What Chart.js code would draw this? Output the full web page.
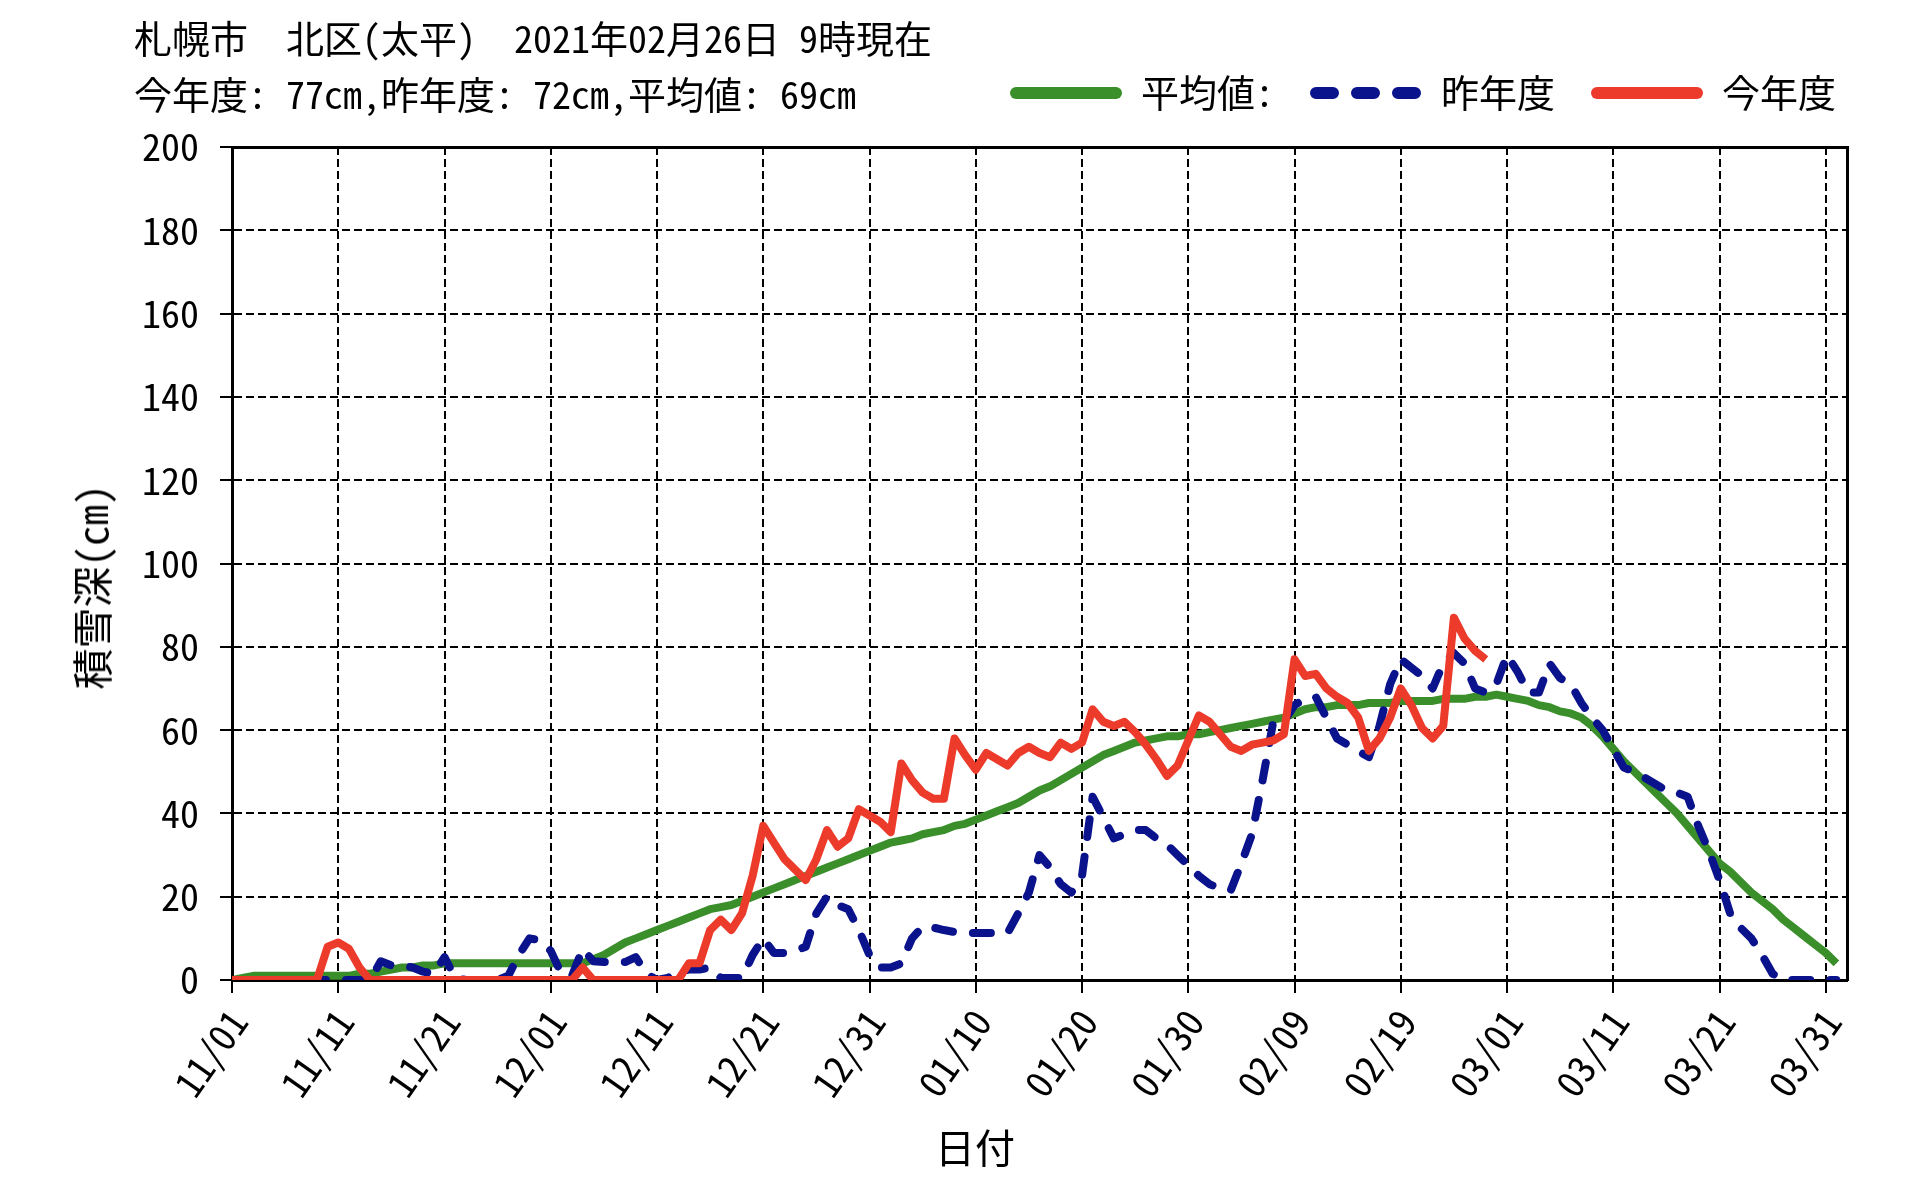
<!DOCTYPE html>
<html lang="ja">
<head>
<meta charset="utf-8">
<title>積雪深 札幌市 北区(太平)</title>
<script src="https://cdn.jsdelivr.net/npm/chart.js@4.4.1/dist/chart.umd.min.js"></script>
<style>
  html, body { margin: 0; padding: 0; background: #fff; }
  #wrap { position: relative; width: 1916px; height: 1192px; }
  #wrap canvas { position: absolute; left: 0; top: 0; }
  .txt {
    position: absolute;
    white-space: pre;
    color: #000;
    font-family: "Noto Sans Mono CJK JP", "Noto Sans CJK JP", sans-serif;
    font-size: 38px;
    line-height: 38px;
  }
  #head1 { left: 134px; top: 18px; }
  #head2 { left: 134px; top: 74px; }
  #xtitle { left: 975px; top: 1146px; font-size: 40px; transform: translate(-50%, -50%); }
  #ytitle { left: 90px; top: 587px; font-size: 41px; transform: translate(-50%, -50%) rotate(-90deg); }
</style>
</head>
<body>
<div id="wrap">
  <canvas id="snowChart" width="1916" height="1192"></canvas>
  <div class="txt" id="head1">札幌市　北区(太平)　2021年02月26日 9時現在</div>
  <div class="txt" id="head2">今年度: 77cm,昨年度: 72cm,平均値: 69cm</div>
  <div class="txt" id="xtitle">日付</div>
  <div class="txt" id="ytitle">積雪深(cm)</div>
</div>
<script>
// 積雪深グラフ 札幌市 北区(太平)  11/01 - 03/31

var FONT = '"Noto Sans Mono CJK JP", "Noto Sans CJK JP", sans-serif';
var GREEN = '#3a8f2b';
var BLUE = '#0a128c';
var RED = '#ec3a2b';

// x軸の目盛ラベル (10日ごと)
var tickLabels = ['11/01', '11/11', '11/21', '12/01', '12/11', '12/21', '12/31', '01/10',
    '01/20', '01/30', '02/09', '02/19', '03/01', '03/11', '03/21', '03/31'];

// 平均値 (cm)
var avgDepth = [
    0, 0.5, 1, 1, 1, 1, 1, 1, 1, 1,
    1, 1, 1.5, 1.5, 2, 2.5, 3, 3, 3.5, 3.5,
    4, 4, 4, 4, 4, 4, 4, 4, 4, 4,
    4, 4, 4, 4, 5, 6, 7.5, 9, 10, 11,
    12, 13, 14, 15, 16, 17, 17.5, 18, 19, 20,
    21, 22, 23, 24, 25, 26, 27, 28, 29, 30,
    31, 32, 33, 33.5, 34, 35, 35.5, 36, 37, 37.5,
    38.5, 39.5, 40.5, 41.5, 42.5, 44, 45.5, 46.5, 48, 49.5,
    51, 52.5, 54, 55, 56, 57, 57.5, 58, 58.5, 58.5,
    59, 59, 59.5, 60, 60.5, 61, 61.5, 62, 62.5, 63,
    64, 65, 65.5, 65.5, 66, 66, 66, 66.5, 66.5, 66.5,
    67, 67, 67, 67, 67.5, 67.5, 67.5, 68, 68, 68.5,
    68, 67.5, 67, 66, 65.5, 64.5, 64, 63, 61, 58.5,
    55.5, 52.5, 50, 47.5, 45, 42.5, 40, 37, 34, 31,
    28, 26, 23.5, 21, 19, 17, 14.5, 12.5, 10.5, 8.5,
    6.5, 4
];

// 昨年度 (cm)
var lastSeason = [
    0, 0, 0, 0, 0, 0, 0, 0, 0, 0,
    0, 0, 0, 0, 4.5, 3.5, 3.5, 3, 2, 1.5,
    5.5, 0.5, 0, 0, 0, 0, 1, 6, 10, 9.5,
    7, 1.5, 1, 7.5, 4.5, 4.3, 4.3, 4.3, 5.5, 1.5,
    0, 0.5, 2, 2.5, 2.5, 3, 0.5, 0.5, 0.5, 6,
    10, 6.5, 6.5, 7, 8, 16, 20, 18, 17, 12,
    6, 3, 3, 4, 10, 12.8, 12.6, 12, 11.5, 11.3,
    11.3, 11.3, 11.3, 11.3, 16, 21, 30, 27, 23, 21,
    25, 44, 39, 34, 35, 36, 36, 34, 32.5, 30,
    27.5, 25, 23, 22, 21.5, 28, 35, 48, 62, 62,
    66, 67.5, 68, 63, 58, 56.5, 55, 53.5, 61, 71,
    77, 75, 73, 70, 76, 78.5, 76, 70, 69, 71,
    78, 74, 69, 69, 76, 72.5, 71, 66.5, 63, 60,
    55.5, 51, 50, 48.5, 47, 45.5, 45, 44, 37, 31,
    24, 16, 12.5, 10, 6, 1.5, 0, 0, 0, 0,
    0, 0
];

// 今年度 (cm) 02/26まで
var thisSeason = [
    0, 0, 0, 0, 0, 0, 0, 0, 0, 8,
    9, 7.5, 3, 0, 0, 0, 0, 0, 0, 0,
    0, 0, 0, 0, 0, 0, 0, 0, 0, 0,
    0, 0, 0, 3, 0, 0, 0, 0, 0, 0,
    0, 0, 0, 4, 4, 12, 14.5, 12, 16, 25,
    37, 33, 29, 26.5, 24, 29, 36, 32, 34, 41,
    39.5, 38, 35.5, 52, 48, 45, 43.5, 43.5, 58, 54,
    50.5, 54.5, 53, 51.5, 54.5, 56, 54.5, 53.5, 57, 55.5,
    57, 65, 62, 61, 62, 59.5, 56.5, 53, 49, 51.5,
    57.5, 63.5, 62, 59, 56, 55, 56.5, 57, 57.5, 59,
    77, 73, 73.5, 70, 68, 66.5, 63, 55, 58, 63,
    70, 66, 60.5, 58, 61, 87, 82, 79, 77
];

var days = avgDepth.map(function (v, i) { return i; });

function tickFont(size) {
    return { family: FONT, size: size };
}

// 凡例の線見本 (112x12)
function makeSwatch(color, dash) {
    var c = document.createElement('canvas');
    c.width = 112;
    c.height = 12;
    var ctx = c.getContext('2d');
    ctx.strokeStyle = color;
    ctx.lineWidth = 12;
    ctx.lineCap = 'round';
    ctx.setLineDash(dash);
    ctx.beginPath();
    ctx.moveTo(6, 6);
    ctx.lineTo(106, 6);
    ctx.stroke();
    return c;
}

new Chart(document.getElementById('snowChart'), {
    type: 'line',
    data: {
        labels: days,
        datasets: [
            { label: '今年度', data: thisSeason, borderColor: RED, backgroundColor: RED, borderWidth: 8,
              pointStyle: makeSwatch(RED, []) },
            { label: '昨年度', data: lastSeason, borderColor: BLUE, backgroundColor: BLUE, borderWidth: 8,
              borderDash: [18, 20], borderCapStyle: 'round', pointStyle: makeSwatch(BLUE, [17, 24]) },
            { label: '平均値:', data: avgDepth, borderColor: GREEN, backgroundColor: GREEN, borderWidth: 8,
              pointStyle: makeSwatch(GREEN, []) }
        ]
    },
    options: {
        responsive: false,
        devicePixelRatio: 1,
        animation: false,
        layout: { padding: { top: 38, right: 44, bottom: 0, left: 0 } },
        elements: {
            point: { radius: 0 },
            line: { tension: 0, borderJoinStyle: 'round' }
        },
        plugins: {
            title: { display: false },
            tooltip: { enabled: false },
            legend: {
                position: 'top',
                align: 'end',
                reverse: true,
                labels: {
                    usePointStyle: true,
                    pointStyleWidth: 112,
                    padding: 36,
                    color: '#000',
                    font: tickFont(38)
                }
            }
        },
        scales: {
            x: {
                type: 'linear',
                min: 0,
                max: 152,
                afterFit: function (scale) { scale.height = 212; },
                ticks: {
                    stepSize: 10,
                    includeBounds: false,
                    autoSkip: false,
                    minRotation: 55,
                    maxRotation: 55,
                    padding: 8,
                    labelOffset: 6,
                    color: '#000',
                    font: tickFont(38),
                    callback: function (value) { return tickLabels[Math.round(value / 10)]; }
                },
                grid: { color: '#000', lineWidth: 2, tickLength: 13, tickColor: '#000', tickWidth: 2 },
                border: { color: '#000', width: 3, dash: [8, 4] }
            },
            y: {
                min: 0,
                max: 200,
                afterFit: function (scale) { scale.width = 232; },
                ticks: { stepSize: 20, padding: 21, color: '#000', font: tickFont(38) },
                grid: { color: '#000', lineWidth: 2, tickLength: 12, tickColor: '#000', tickWidth: 2 },
                border: { color: '#000', width: 3, dash: [8, 4] }
            },
            x2: {
                type: 'linear',
                position: 'top',
                afterFit: function (scale) { scale.height = 25; },
                ticks: { display: false },
                grid: { display: false },
                border: { color: '#000', width: 3 }
            },
            y2: {
                type: 'linear',
                position: 'right',
                afterFit: function (scale) { scale.width = 25; },
                ticks: { display: false },
                grid: { display: false },
                border: { color: '#000', width: 3 }
            }
        }
    }
});
</script>
</body>
</html>
